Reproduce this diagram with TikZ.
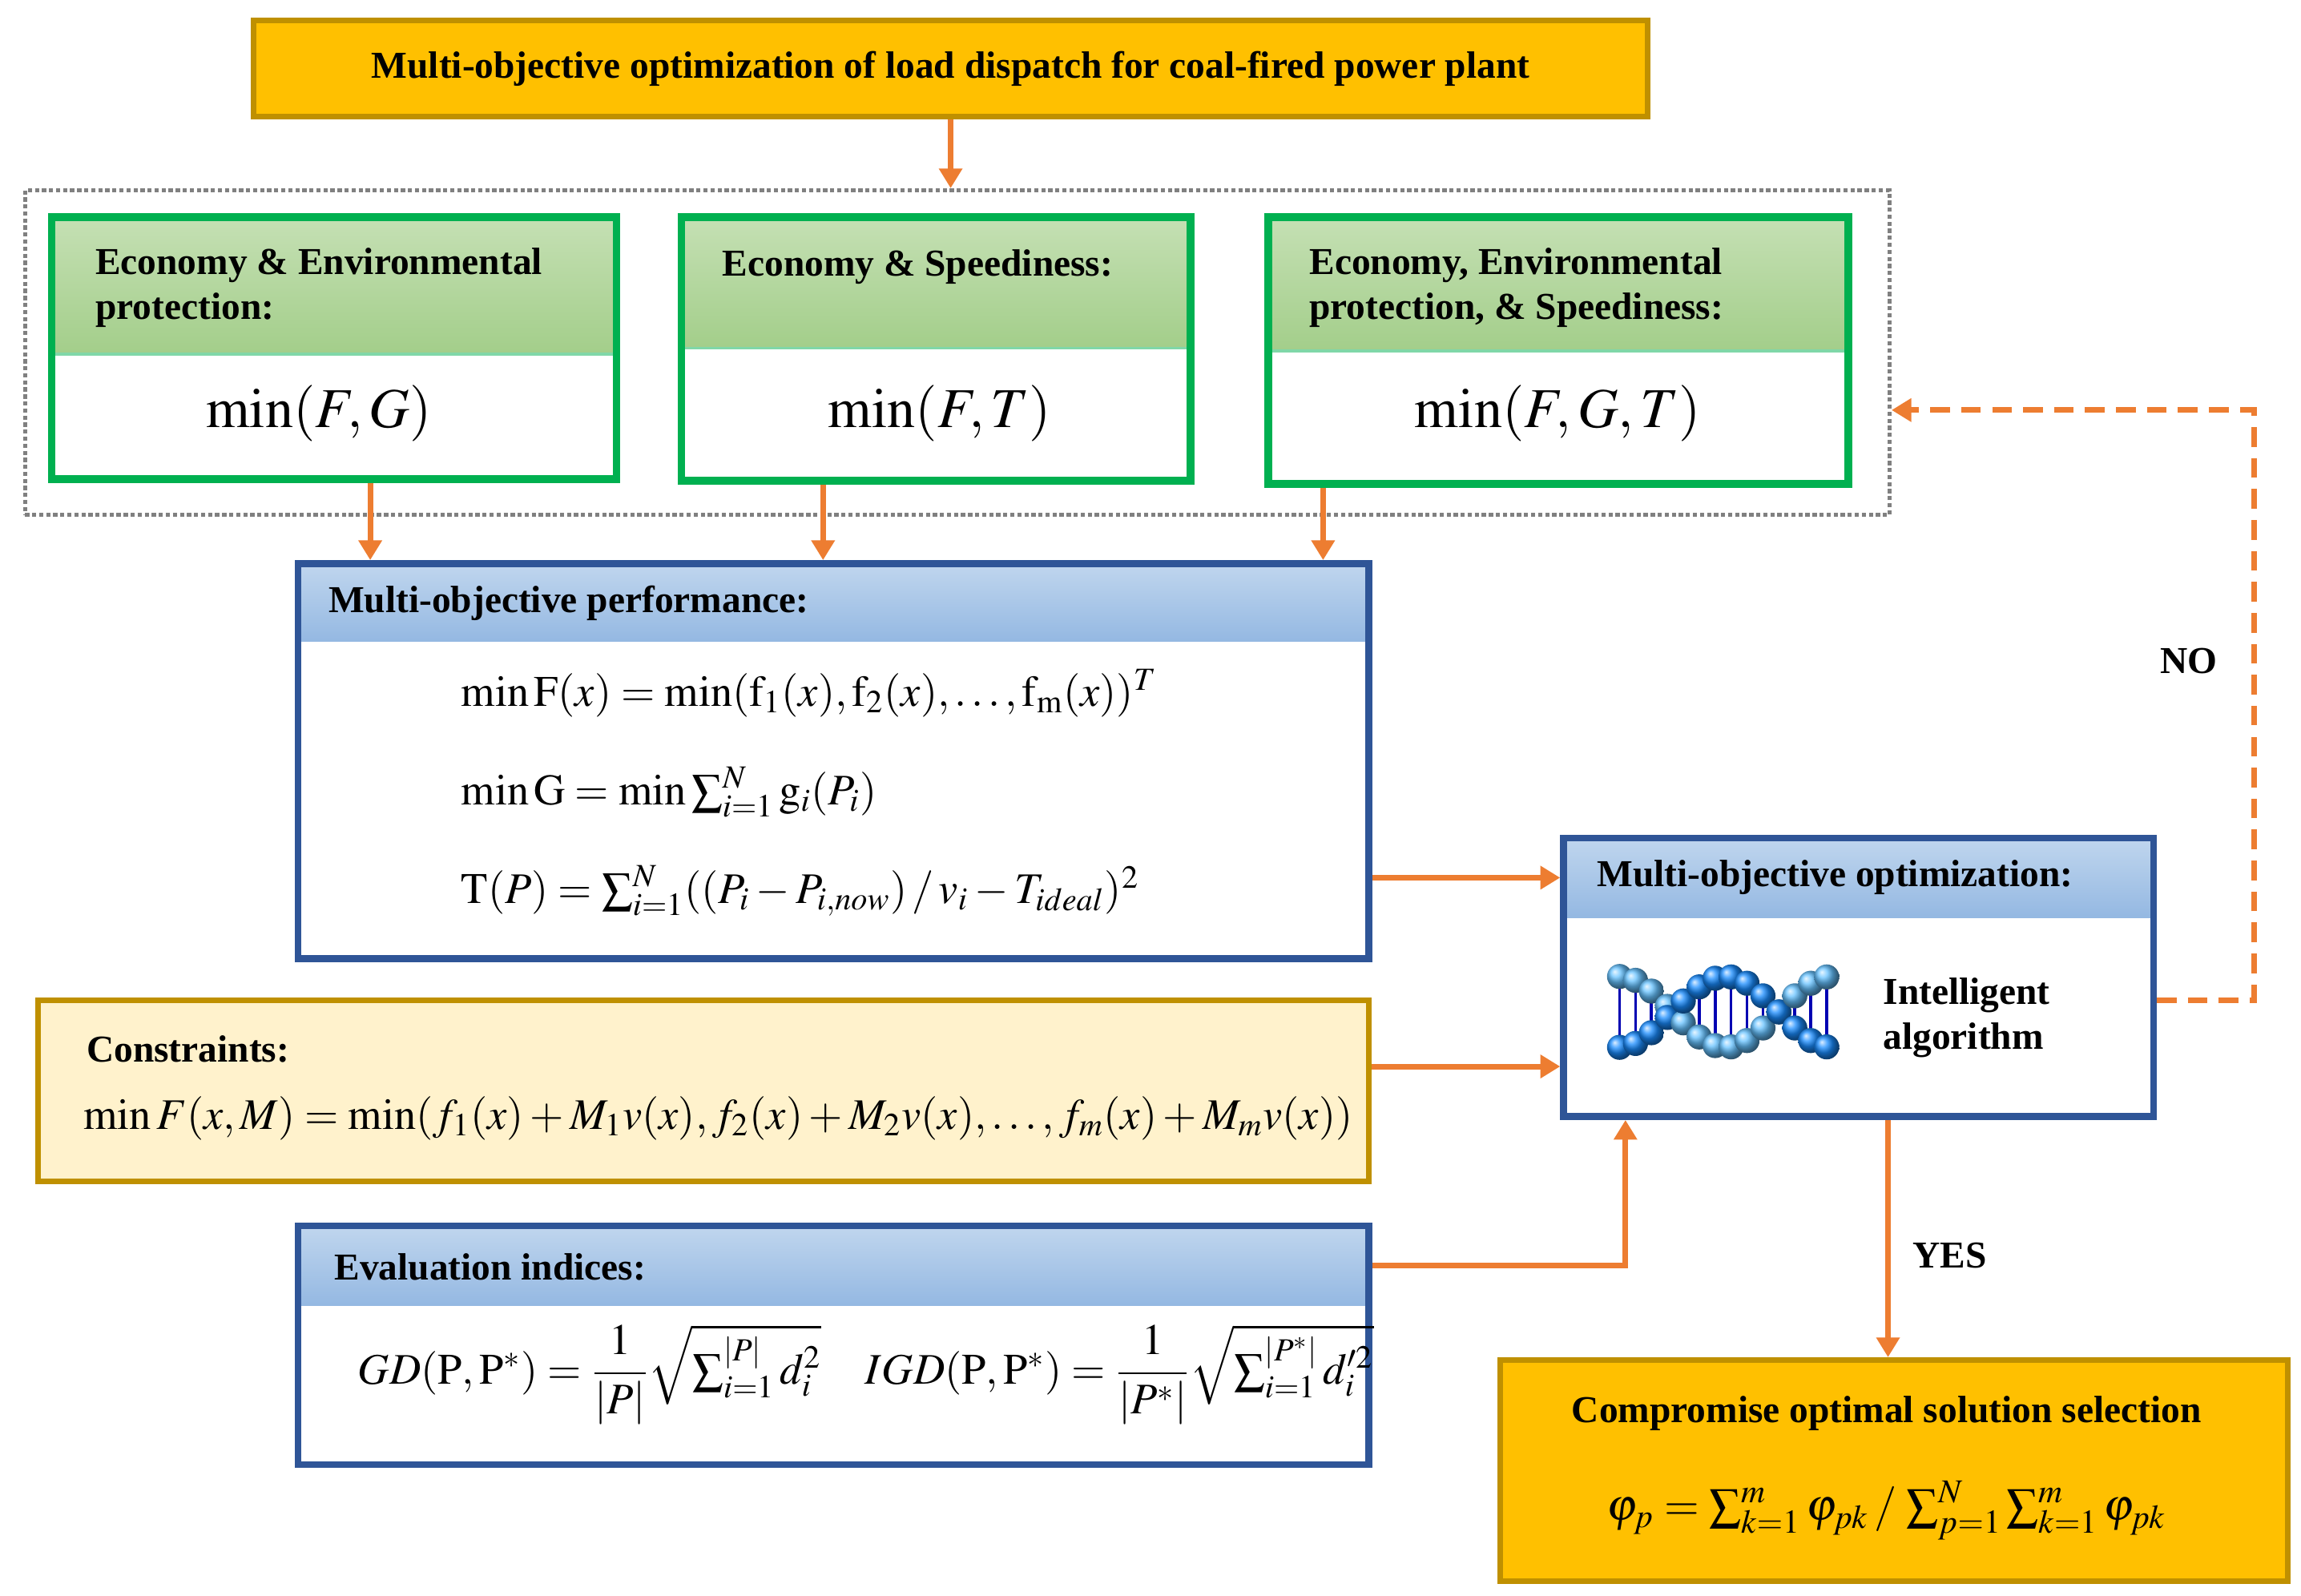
\documentclass[tikz,border=0pt]{standalone}
\usepackage{amsmath}
\usepackage{mathptmx}
\usepackage{fontspec}
\setmainfont{Liberation Serif}
\usetikzlibrary{fit,arrows.meta,calc}
\definecolor{gold}{HTML}{FFC000}
\definecolor{goldb}{HTML}{BF9000}
\definecolor{gbord}{HTML}{00B050}
\definecolor{bbord}{HTML}{2F5597}
\definecolor{arr}{HTML}{ED7D31}
\definecolor{cream}{HTML}{FFF2CC}
\definecolor{gtop}{HTML}{C5E0B4}
\definecolor{gbot}{HTML}{A3CE8A}
\definecolor{btop}{HTML}{C0D6EE}
\definecolor{bbot}{HTML}{94B8E2}
\tikzset{
 x=0.01841cm,y=-0.01841cm,
 box/.style={inner sep=0pt,draw,line width=2.2pt},
 gbox/.style={box,draw=gbord,line width=2.8pt},
 bbox/.style={box,draw=bbord,line width=2.4pt},
 goldbox/.style={box,fill=gold,draw=goldb,line width=2pt},
 ghead/.style={top color=gtop,bottom color=gbot},
 bhead/.style={top color=btop,bottom color=bbot},
 head/.style={font=\bfseries\fontsize{13.5}{16}\selectfont,anchor=west,align=left},
 arrow/.style={draw=arr,line width=2pt,-{Triangle[length=7pt,width=8pt]}},
 fm/.style={font=\fontsize{15.5}{18}\selectfont,anchor=west},
}
\begin{document}
\begin{tikzpicture}
\useasboundingbox (0,0) rectangle (1560,1081.5);
% title
\node[goldbox,fit={(172,14) (1117,79)}] (title) {};
\node[font=\bfseries\fontsize{13.5}{16}\selectfont] (titlet) at (title.center) {Multi-objective optimization of load dispatch for coal-fired power plant};
% dotted group
\node[box,draw=gray,line width=1.5pt,dash pattern=on 1.5pt off 1pt,fit={(17,129) (1281,349)}] (group) {};
\draw[arrow] (title.south) -- (group.north -| title.south);
% green boxes
\fill[ghead] (35,147) rectangle (418,240);
\draw[gbord!50!white,line width=1pt] (35,240) -- (418,240);
\node[gbox,fit={(35,147) (418,325)}] (g1) {};
\node[head] (g1h) at (58,195) {Economy \& Environmental\\protection:};
\node[font=\fontsize{20}{22}\selectfont] (g1f) at (216,280) {$\min(F,G)$};
\fill[ghead] (462,147) rectangle (807,236);
\draw[gbord!50!white,line width=1pt] (462,236) -- (807,236);
\node[gbox,fit={(462,147) (807,326)}] (g2) {};
\node[head] (g2h) at (483,181) {Economy \& Speediness:};
\node[font=\fontsize{20}{22}\selectfont] (g2f) at (637,280) {$\min(F,T)$};
\fill[ghead] (860,147) rectangle (1253,238);
\draw[gbord!50!white,line width=1pt] (860,238) -- (1253,238);
\node[gbox,fit={(860,147) (1253,328)}] (g3) {};
\node[head] (g3h) at (881,195) {Economy, Environmental\\protection, \& Speediness:};
\node[font=\fontsize{20}{22}\selectfont] (g3f) at (1056,280) {$\min(F,G,T)$};
% performance box
\fill[bhead] (202,382) rectangle (928,435);
\node[bbox,fit={(202,382) (928,650)}] (perf) {};
\node[head] (perfh) at (216,409) {Multi-objective performance:};
\node[fm] (f1) at (306,470) {$\min \mathrm{F}(x)=\min(\mathrm{f}_1(x),\mathrm{f}_2(x),\ldots,\mathrm{f}_\mathrm{m}(x))^T$};
\node[fm] (f2) at (306,537) {$\min \mathrm{G}=\min\textstyle\sum_{i=1}^{N}\mathrm{g}_i(P_i)$};
\node[fm] (f3) at (306,604) {$\mathrm{T}(P)=\textstyle\sum_{i=1}^{N}((P_i-P_{i,now})\,/\,v_i-T_{ideal})^2$};
\draw[arrow] (g1.south -| 251,0) -- (perf.north -| 251,0);
\draw[arrow] (g2.south -| 558,0) -- (perf.north -| 558,0);
\draw[arrow] (g3.south -| 897,0) -- (perf.north -| 897,0);
% constraints
\node[box,fill=cream,draw=goldb,line width=2pt,fit={(26,678) (928,801)}] (cons) {};
\node[head] (consh) at (52,711) {Constraints:};
\node[fm,font=\fontsize{15.5}{18}\selectfont] (consf) at (50,758) {$\min F(x,M)=\min(f_1(x)+M_1v(x),f_2(x)+M_2v(x),\ldots,f_m(x)+M_mv(x))$};
% evaluation
\fill[bhead] (202,831) rectangle (928,885);
\node[bbox,fit={(202,831) (928,993)}] (eval) {};
\node[head] (evalh) at (220,859) {Evaluation indices:};
\node[fm] (evalf) at (236,932) {$GD(\mathrm{P},\mathrm{P}^*)=\dfrac{1}{|P|}\sqrt{\textstyle\sum_{i=1}^{|P|}d_i^2}\quad IGD(\mathrm{P},\mathrm{P}^*)=\dfrac{1}{|P^*|}\sqrt{\textstyle\sum_{i=1}^{|P^*|}d_i'^2}$};
% MO box
\fill[bhead] (1060,568) rectangle (1460,622);
\node[bbox,fit={(1060,568) (1460,757)}] (mo) {};
\node[head] (moh) at (1076,595) {Multi-objective optimization:};
\node[head] (mot) at (1270,690) {Intelligent\\algorithm};
% DNA icon
\foreach \i in {0,...,13}{
  \pgfmathsetmacro{\xx}{1098+\i*10.8}
  \pgfmathsetmacro{\ya}{686-24*cos(\i*27)}
  \pgfmathsetmacro{\yb}{686+24*cos(\i*27)}
  \draw[blue!70!black,line width=1pt] (\xx,\ya) -- (\xx,\yb);
  \shade[ball color=cyan!60!blue!60] (\xx,\ya) circle (8.5);
  \shade[ball color=blue!50!cyan!90] (\xx,\yb) circle (8.5);
}
% compromise
\node[goldbox,fit={(1017,922) (1551,1072)}] (comp) {};
\node[font=\bfseries\fontsize{13.5}{16}\selectfont] (compt) at (1279,958) {Compromise optimal solution selection};
\node[font=\fontsize{16}{18}\selectfont] (compf) at (1279,1024) {$\varphi_p=\textstyle\sum_{k=1}^{m}\varphi_{pk}\,/\,\sum_{p=1}^{N}\sum_{k=1}^{m}\varphi_{pk}$};
% connectors
\draw[arrow] (perf.east |- 0,595) -- (mo.west |- 0,595);
\draw[arrow] (cons.east |- 0,723) -- (mo.west |- 0,723);
\coordinate (ec) at (1102,858);
\draw[arrow] (eval.east |- ec) -- (ec) -- (mo.south -| ec);
\coordinate (n1) at (1528,678);
\coordinate (n2) at (1528,278);
\draw[arrow,dash pattern=on 7pt off 4pt] (mo.east |- n1) -- (n1) -- (n2) -- (group.east |- n2);
\node[font=\bfseries\fontsize{13.5}{16}\selectfont] (no) at (1484,448) {NO};
\draw[arrow] (mo.south -| 1280,0) -- (comp.north -| 1280,0);
\node[font=\bfseries\fontsize{13.5}{16}\selectfont] (yes) at (1322,851) {YES};
\end{tikzpicture}
\end{document}
